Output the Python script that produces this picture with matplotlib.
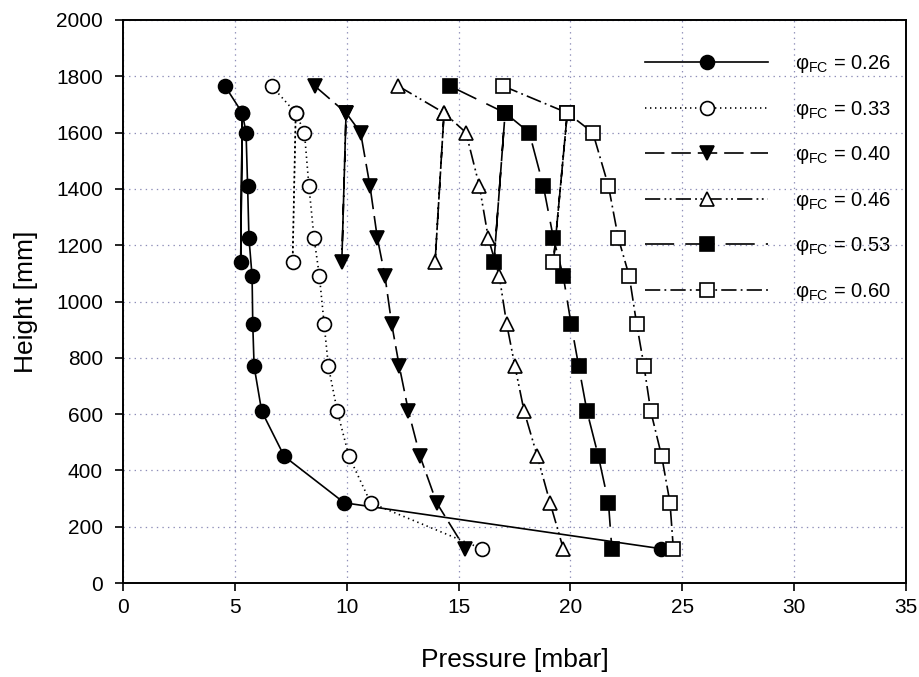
#!/usr/bin/env python3
import numpy as np
import matplotlib
matplotlib.use("Agg")
import matplotlib.pyplot as plt

plt.rcParams["font.family"] = ["Liberation Sans", "DejaVu Sans"]
plt.rcParams["mathtext.default"] = "regular"
plt.rcParams["lines.scale_dashes"] = False

# --- data ---
heights = [1765, 1670, 1600, 1410, 1225, 1140, 1090, 920, 770, 610, 450, 285, 122]

p_026 = [4.56, 5.33, 5.50, 5.57, 5.63, 5.26, 5.77, 5.80, 5.86, 6.20, 7.21, 9.89, 24.05]
p_033 = [6.65, 7.72, 8.11, 8.31, 8.54, 7.58, 8.78, 8.99, 9.18, 9.58, 10.10, 11.07, 16.03]
p_040 = [8.58, 9.97, 10.62, 11.04, 11.37, 9.78, 11.71, 12.01, 12.35, 12.76, 13.28, 14.02, 15.29]
p_046 = [12.31, 14.35, 15.33, 15.93, 16.33, 13.95, 16.82, 17.15, 17.52, 17.93, 18.52, 19.09, 19.68]
p_053 = [14.62, 17.08, 18.16, 18.79, 19.24, 16.58, 19.68, 20.03, 20.37, 20.74, 21.25, 21.70, 21.85]
p_060 = [17.00, 19.86, 21.00, 21.70, 22.14, 19.24, 22.63, 22.96, 23.29, 23.59, 24.08, 24.45, 24.60]

labels = ["0.26", "0.33", "0.40", "0.46", "0.53", "0.60"]

# order in which the points are joined (the 1140 mm point hangs off the 1670 mm one)
path = [0, 1, 5, 1, 2, 3, 4, 6, 7, 8, 9, 10, 11, 12]

# marker, face colour, dash pattern (points)
styles = [
    ("o", "black", "-"),
    ("o", "white", (0, (1.0, 2.6))),
    ("v", "black", (0, (14, 5))),
    ("^", "white", (0, (11, 3, 1.3, 2.5, 1.3, 3))),
    ("s", "black", (0, (21, 8))),
    ("s", "white", (0, (11, 3, 1.3, 3))),
]

series = [p_026, p_033, p_040, p_046, p_053, p_060]

fig = plt.figure(figsize=(9.2, 6.77), dpi=100)
ax = fig.add_axes([0.1337, 0.1388, 0.8511, 0.8317])

h = np.asarray(heights)
for p, lab, (mk, fc, ls) in zip(series, labels, styles):
    p = np.asarray(p)
    ax.plot(p[path], h[path], color="black", lw=1.2, linestyle=ls,
            marker=mk, markersize=10 if mk == "o" else 9.5, markerfacecolor=fc,
            markeredgecolor="black", markeredgewidth=1.2,
            label="φ$_{FC}$ = " + lab)

ax.set_xlim(0, 35)
ax.set_ylim(0, 2000)
ax.set_xticks(np.arange(0, 36, 5))
ax.set_yticks(np.arange(0, 2001, 200))
ax.grid(True, color="#8e8eb8", linestyle=(0, (1, 3)), linewidth=0.9)
ax.tick_params(direction="out", length=6, width=1.2, labelsize=15,
               top=False, right=False)
ax.tick_params(axis="x", pad=5)
ax.tick_params(axis="y", pad=8.5)
for s in ax.spines.values():
    s.set_linewidth(1.4)

ax.set_xlabel("Pressure [mbar]", fontsize=19, labelpad=22)
ax.set_ylabel("Height [mm]", fontsize=19, labelpad=13)

leg = ax.legend(loc="upper left", bbox_to_anchor=(0.667, 0.941), frameon=False,
                fontsize=14.5, handlelength=6.1, handletextpad=1.34,
                labelspacing=1.17, borderpad=0, borderaxespad=0)

fig.savefig("out.png", dpi=100)
